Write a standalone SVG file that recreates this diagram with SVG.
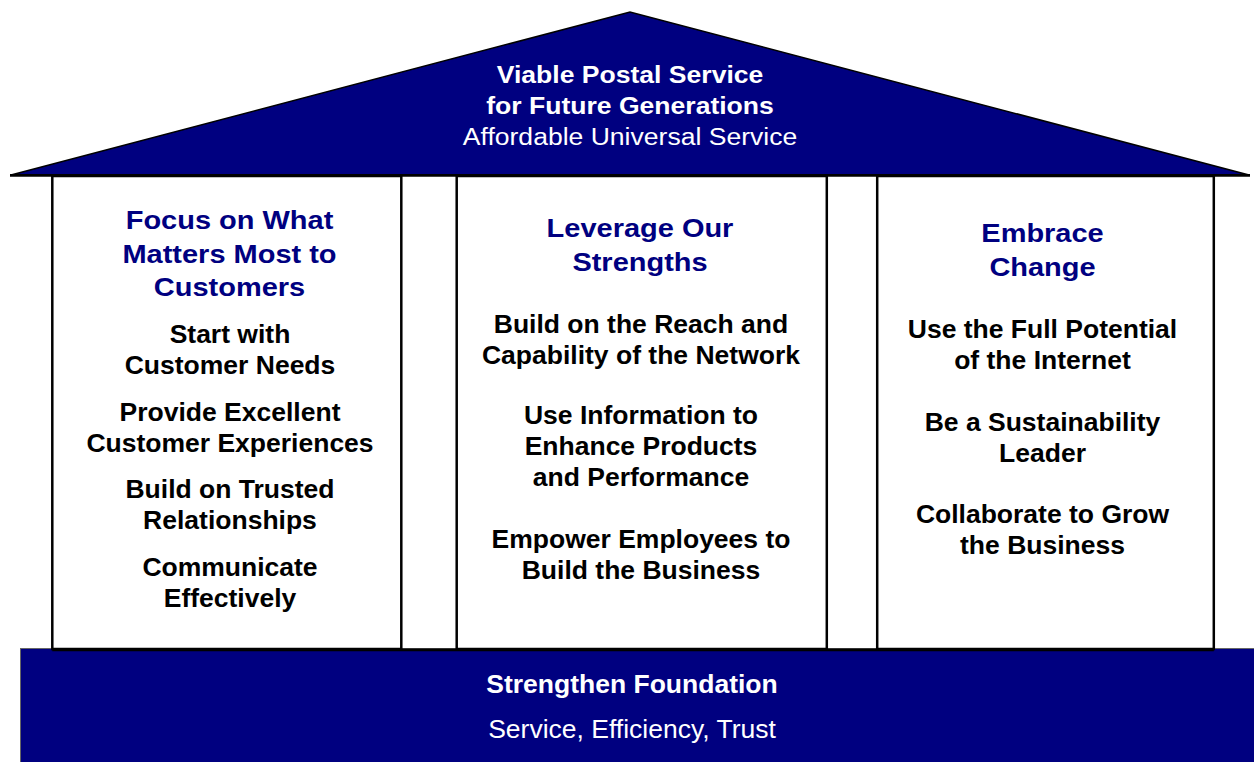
<svg xmlns="http://www.w3.org/2000/svg" width="1254" height="762" viewBox="0 0 1254 762">
<style>
text{font-family:"Liberation Sans",Arial,sans-serif;text-anchor:middle}
.tb{font-weight:bold;fill:#fff;font-size:23.5px}
.tn{fill:#fff;font-size:23.5px}
.hd{font-weight:bold;fill:#000080;font-size:26px}
.bd{font-weight:bold;fill:#000;font-size:26.5px}
.fb{font-weight:bold;fill:#fff;font-size:26.5px}
.fn{fill:#fff;font-size:26.5px}
.pillar{fill:#fff;stroke:#000;stroke-width:2.5}
.navy{fill:#000080}
.edge{stroke:#000;stroke-width:2.7;fill:none}
</style>
<rect width="1254" height="762" fill="#fff"/>
<g id="foundation">
<rect class="navy" x="20.5" y="648.5" width="1240" height="120" stroke="#666" stroke-width="1"/>
<text class="fb" x="632" y="693">Strengthen Foundation</text>
<text class="fn" x="632" y="738">Service, Efficiency, Trust</text>
</g>
<g id="pillar1">
<rect class="pillar" x="52.3" y="176" width="349" height="473"/>
<g transform="translate(229.5 0) scale(1.115 1)">
<text class="hd" x="0" y="229">Focus on What</text>
<text class="hd" x="0" y="263">Matters Most to</text>
<text class="hd" x="0" y="296.5">Customers</text>
</g>
<text class="bd" x="230" y="343">Start with</text>
<text class="bd" x="230" y="374">Customer Needs</text>
<text class="bd" x="230" y="421">Provide Excellent</text>
<text class="bd" x="230" y="452">Customer Experiences</text>
<text class="bd" x="230" y="498">Build on Trusted</text>
<text class="bd" x="230" y="529">Relationships</text>
<text class="bd" x="230" y="576">Communicate</text>
<text class="bd" x="230" y="607">Effectively</text>
</g>
<g id="pillar2">
<rect class="pillar" x="456.7" y="176" width="370.1" height="473"/>
<g transform="translate(640 0) scale(1.115 1)">
<text class="hd" x="0" y="237">Leverage Our</text>
<text class="hd" x="0" y="271">Strengths</text>
</g>
<text class="bd" x="641" y="333">Build on the Reach and</text>
<text class="bd" x="641" y="364">Capability of the Network</text>
<text class="bd" x="641" y="424">Use Information to</text>
<text class="bd" x="641" y="455">Enhance Products</text>
<text class="bd" x="641" y="486">and Performance</text>
<text class="bd" x="641" y="548">Empower Employees to</text>
<text class="bd" x="641" y="579">Build the Business</text>
</g>
<g id="pillar3">
<rect class="pillar" x="877.2" y="176" width="336.6" height="473"/>
<g transform="translate(1042.5 0) scale(1.115 1)">
<text class="hd" x="0" y="242">Embrace</text>
<text class="hd" x="0" y="276">Change</text>
</g>
<text class="bd" x="1042.5" y="338">Use the Full Potential</text>
<text class="bd" x="1042.5" y="369">of the Internet</text>
<text class="bd" x="1042.5" y="431">Be a Sustainability</text>
<text class="bd" x="1042.5" y="462">Leader</text>
<text class="bd" x="1042.5" y="523">Collaborate to Grow</text>
<text class="bd" x="1042.5" y="554">the Business</text>
</g>
<g id="base-line">
<line class="edge" x1="52.3" y1="649.8" x2="1213.8" y2="649.8"/>
</g>
<g id="roof">
<polygon class="navy" points="11,175 630,12 1249,175" stroke="#000" stroke-width="1.5" stroke-linejoin="miter"/>
<line class="edge" x1="10" y1="175.3" x2="1250" y2="175.3"/>
<g transform="translate(630 0) scale(1.13 1)">
<text class="tb" x="0" y="83">Viable Postal Service</text>
<text class="tb" x="0" y="114.5">for Future Generations</text>
<text class="tn" x="0" y="145.5">Affordable Universal Service</text>
</g>
</g>
</svg>
